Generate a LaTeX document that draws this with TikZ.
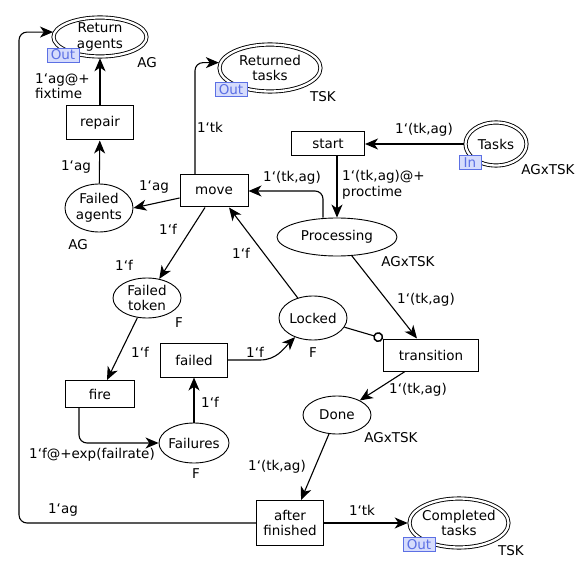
\documentclass[tikz,border=0pt]{standalone}
\usepackage{fontspec}
\setmainfont{DejaVu Sans}
\usetikzlibrary{arrows.meta,shapes.geometric}
\definecolor{portblue}{RGB}{92,112,228}
\definecolor{portfill}{RGB}{214,220,252}
\def\bq{\symbol{96}}
\tikzset{
	place/.style={ellipse, draw, line width=0.9pt, fill=white, inner sep=-3pt, align=center},
	ioplace/.style={place, double, double distance=2.3pt, outer sep=1.8pt},
	trans/.style={rectangle, draw, line width=1pt, fill=white, inner sep=0pt, align=center},
	arc/.style={line width=1.1pt, -{Stealth[length=13pt,width=11pt,inset=3.8pt]}},
	inhib/.style={line width=1.1pt, -{Circle[open,length=10pt,line width=1.5pt]}},
	lbl/.style={inner sep=0pt, align=left},
	port/.style={draw=portblue, fill=portfill, text=portblue, line width=0.8pt, inner sep=0pt, minimum height=14pt}
}

\begin{document}
\begin{tikzpicture}[x=1pt, y=1pt, font=\fontsize{13.5}{15.5}\selectfont]
			%%%%% START %%%%%
			\useasboundingbox (0,0) rectangle (578,-561);
			
			% places
			\node[ioplace, minimum width=93pt, minimum height=39pt] (retagents) at (100,-37) {Return\\agents};
			\node[ioplace, minimum width=101pt, minimum height=47pt] (rettasks) at (270,-68) {Returned\\tasks};
			\node[ioplace, minimum width=61pt, minimum height=43pt] (tasks) at (496,-144) {Tasks};
			\node[ioplace, minimum width=99pt, minimum height=49pt] (completed) at (459,-523) {Completed\\tasks};
			
			\node[place, minimum width=68pt, minimum height=48pt] (failagents) at (99,-208) {Failed\\agents};
			\node[place, minimum width=68pt, minimum height=40pt] (failtoken) at (147,-298) {Failed\\token};
			\node[place, minimum width=120pt, minimum height=38pt] (proc) at (337,-237) {Processing};
			\node[place, minimum width=68pt, minimum height=44pt] (locked) at (313,-318) {Locked};
			\node[place, minimum width=70pt, minimum height=40pt] (failures) at (194,-443) {Failures};
			\node[place, minimum width=68pt, minimum height=38pt] (done) at (337,-415) {Done};
			
			% transitions
			\node[trans, minimum width=67pt, minimum height=34pt] (repair) at (100,-123) {repair};
			\node[trans, minimum width=68pt, minimum height=32pt] (move) at (214,-191) {move};
			\node[trans, minimum width=73pt, minimum height=24pt] (start) at (328,-144) {start};
			\node[trans, minimum width=69pt, minimum height=27pt] (fire) at (100,-394) {fire};
			\node[trans, minimum width=67pt, minimum height=34pt] (failed) at (194,-360) {failed};
			\node[trans, minimum width=95pt, minimum height=32pt] (transition) at (431,-355) {transition};
			\node[trans, minimum width=67pt, minimum height=45pt] (afterfin) at (290,-523) {after\\finished};
			
			% port tags
			\node[port, minimum width=32pt] (retagentsport) at (63,-55) {Out};
			\node[port, minimum width=32pt] (rettasksport) at (231,-89.5) {Out};
			\node[port, minimum width=22pt] (tasksport) at (470,-162.5) {In};
			\node[port, minimum width=32pt] (completedport) at (419,-544.5) {Out};
			
			% colour sets
			\node[lbl] (retagentscs) at (147,-63) {AG};
			\node[lbl] (failagentscs) at (78,-245) {AG};
			\node[lbl] (rettaskscs) at (323,-97) {TSK};
			\node[lbl] (taskscs) at (548,-170) {AGxTSK};
			\node[lbl] (proccs) at (408,-262) {AGxTSK};
			\node[lbl] (failtokencs) at (179,-323) {F};
			\node[lbl] (lockedcs) at (313,-353) {F};
			\node[lbl] (failurescs) at (196,-474) {F};
			\node[lbl] (donecs) at (391,-438) {AGxTSK};
			\node[lbl] (completedcs) at (511,-551) {TSK};
			
			% arcs
			\draw[arc] (repair) -- (retagents);
			\draw[arc] (failagents) -- (repair);
			\draw[arc] ([yshift=-7pt]move.west) -- (failagents.east);
			\draw[arc, rounded corners=8pt] ([xshift=-19pt]move.north) |- (rettasks.174);
			\draw[arc] (tasks.west) -- (start.east);
			\draw[arc] (proc.north |- start.south) -- (proc.north);
			\draw[arc, rounded corners=8pt] ([xshift=-14pt]proc.north) |- (move.east);
			\draw[arc] ([xshift=-9pt]move.south) -- (failtoken);
			\draw[arc] (failtoken) -- ([xshift=7pt]fire.north);
			\draw[arc, rounded corners=8pt] ([xshift=-21pt]fire.south) |- (failures.west);
			\draw[arc] (failures) -- (failed);
			\draw[arc] (failed.east) -- ++(32,0) to[out=0, in=-135] (locked.-133);
			\draw[arc] (locked) -- ([xshift=15pt]move.south);
			\draw[inhib] (locked) -- (transition.north west);
			\draw[arc] (proc) -- ([xshift=-14pt]transition.north);
			\draw[arc] ([xshift=-26pt]transition.south) -- (done);
			\draw[arc] (done) -- ([xshift=11pt]afterfin.north);
			\draw[arc] (afterfin.east) -- (completed.west);
			\draw[arc, rounded corners=8pt] (afterfin.west) -| ([xshift=-34pt]retagents.174) -- (retagents.174);
			
			% inscriptions
			\node[lbl, anchor=west] (repairout) at (35,-86) {1\bq ag@+\\fixtime};
			\node[lbl] (repairin) at (76,-167) {1\bq ag};
			\node[lbl] (moveagent) at (154,-187) {1\bq ag};
			\node[lbl] (movetask) at (210,-127) {1\bq tk};
			\node[lbl] (startin) at (424,-130) {1\bq(tk,ag)};
			\node[lbl, anchor=west] (startout) at (342,-185) {1\bq(tk,ag)@+\\proctime};
			\node[lbl] (movein) at (292,-178) {1\bq(tk,ag)};
			\node[lbl] (movetoken) at (168,-229) {1\bq f};
			\node[lbl] (failtokenin) at (124,-265) {1\bq f};
			\node[lbl] (firein) at (140,-352) {1\bq f};
			\node[lbl] (fireout) at (92,-455) {1\bq f@+exp(failrate)};
			\node[lbl] (failedin) at (210,-402) {1\bq f};
			\node[lbl] (failedout) at (255,-352) {1\bq f};
			\node[lbl] (lockedout) at (241,-253) {1\bq f};
			\node[lbl] (transin) at (426,-300) {1\bq(tk,ag)};
			\node[lbl] (transout) at (418,-390) {1\bq(tk,ag)};
			\node[lbl] (afterin) at (277,-467) {1\bq(tk,ag)};
			\node[lbl] (aftertask) at (362,-510) {1\bq tk};
			\node[lbl] (afteragent) at (63,-510) {1\bq ag};
			
			%%%%% END %%%%%
\end{tikzpicture}
\end{document}
